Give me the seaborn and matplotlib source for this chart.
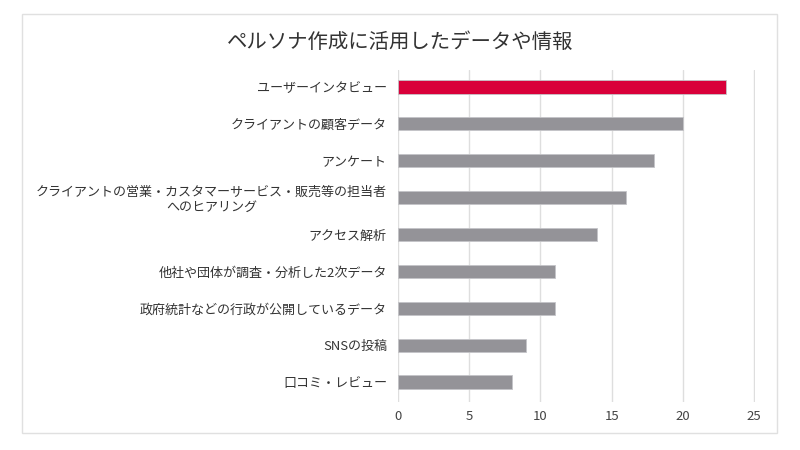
import matplotlib.pyplot as plt
import seaborn as sns
import pandas as pd
from matplotlib.patches import Rectangle

sns.set_theme(style="white")
plt.rcParams['font.family'] = ['Noto Sans CJK JP', 'DejaVu Sans']

# data
categories = [
    "ユーザーインタビュー",
    "クライアントの顧客データ",
    "アンケート",
    "クライアントの営業・カスタマーサービス・販売等の担当者\nへのヒアリング",
    "アクセス解析",
    "他社や団体が調査・分析した2次データ",
    "政府統計などの行政が公開しているデータ",
    "SNSの投稿",
    "口コミ・レビュー",
]
values = [23, 20, 18, 16, 14, 11, 11, 9, 8]
highlight = ["top", "other", "other", "other", "other", "other", "other", "other", "other"]
xticks = [0, 5, 10, 15, 20, 25]

df = pd.DataFrame({"item": categories, "count": values, "group": highlight})
palette = {"top": "#D9003A", "other": "#949398"}

fig = plt.figure(figsize=(8, 4.5), dpi=100)
# light frame around the whole chart
fig.patches.append(Rectangle((22 / 800, 1 - 433 / 450), 755 / 800, 419 / 450,
                             transform=fig.transFigure, fill=False,
                             edgecolor="#e0e0e0", linewidth=1))
ax = fig.add_axes([398 / 800, 48 / 450, 357 / 800, 332 / 450])

sns.barplot(data=df, x="count", y="item", hue="group", palette=palette,
            dodge=False, legend=False, width=0.36, saturation=1, ax=ax,
            edgecolor="#c4c4c8", linewidth=0.6)

ax.set_xlim(0, 25.07)
ax.set_ylim(8.54, -0.46)
ax.set_xticks(xticks)
ax.xaxis.grid(True, color="#dedede", linewidth=1)
ax.set_axisbelow(True)
for s in ax.spines.values():
    s.set_visible(False)
ax.set_xlabel("")
ax.set_ylabel("")
ax.tick_params(axis="x", length=0, pad=6, labelsize=9.5, labelcolor="#444444")
ax.tick_params(axis="y", length=0, pad=8, labelsize=9.4, labelcolor="#333333")
for lbl in ax.get_yticklabels():
    lbl.set_multialignment("center")

fig.text(400 / 800, 1 - 42 / 450, "ペルソナ作成に活用したデータや情報",
         ha="center", va="center", fontsize=14.7, color="#333333")

fig.savefig("out.png", dpi=100)
